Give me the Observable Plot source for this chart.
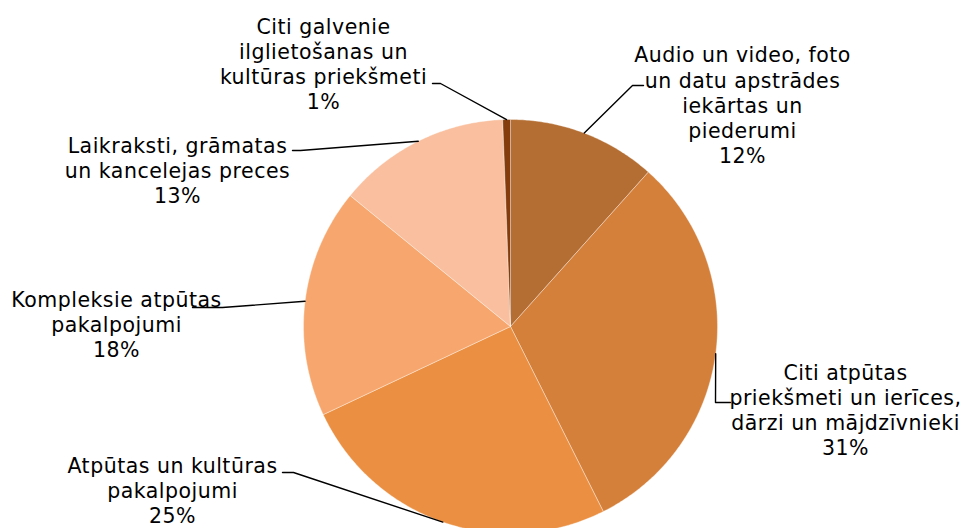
<!DOCTYPE html>
<html><head><meta charset="utf-8">
<script src="https://cdn.jsdelivr.net/npm/d3@7"></script>
<script src="https://cdn.jsdelivr.net/npm/@observablehq/plot@0.6"></script>
<style>body{margin:0;background:#fff}</style>
</head><body><div id="chart"></div>
<script>
// ---- data ----
const categories = [
  "Audio un video, foto\nun datu apstrādes\niekārtas un\npiederumi",
  "Citi atpūtas\npriekšmeti un ierīces,\ndārzi un mājdzīvnieki",
  "Atpūtas un kultūras\npakalpojumi",
  "Kompleksie atpūtas\npakalpojumi",
  "Laikraksti, grāmatas\nun kancelejas preces",
  "Citi galvenie\nilglietošanas un\nkultūras priekšmeti"
];
const values = [11.6, 31.0, 25.4, 17.9, 13.5, 0.6];
const percentLabels = ["12%", "31%", "25%", "18%", "13%", "1%"];
const colors = ["#B46E33", "#D4803B", "#EB9043", "#F7A76E", "#F9BF9E", "#843C0C"];

// ---- layout (pixels) ----
const W = 965, H = 528, cx = 510, cy = 326, R = 207;
const labelLayout = [
  {x: 742, y: 104, elbow: [[632, 85], [643, 85]]},
  {x: 845, y: 409, elbow: [[715, 402], [730, 402]]},
  {x: 172, y: 489, elbow: [[293, 472], [282, 472]]},
  {x: 116, y: 323, elbow: [[222, 307], [192, 307]]},
  {x: 177, y: 169, elbow: [[300, 150], [292, 150]]},
  {x: 323, y: 63, elbow: [[440, 83], [432, 83]]}
];

const rows = categories.map((c, i) => ({cat: c, value: values[i], pct: percentLabels[i], color: colors[i]}));
const arcs = d3.pie().sort(null).value(d => d.value).startAngle(0).endAngle(2 * Math.PI)(rows);

const px = a => cx + R * Math.sin(a);
const py = a => cy - R * Math.cos(a);

const wedgePts = [];
arcs.forEach((a, i) => {
  const n = Math.max(4, Math.ceil((a.endAngle - a.startAngle) / 0.01));
  wedgePts.push({i, color: a.data.color, x: cx, y: cy});
  for (let k = 0; k <= n; k++) {
    const t = a.startAngle + (a.endAngle - a.startAngle) * k / n;
    wedgePts.push({i, color: a.data.color, x: px(t), y: py(t)});
  }
  wedgePts.push({i, color: a.data.color, x: cx, y: cy});
});

const leaderPts = [];
arcs.forEach((a, i) => {
  const mid = (a.startAngle + a.endAngle) / 2;
  leaderPts.push({i, x: px(mid), y: py(mid)});
  labelLayout[i].elbow.forEach(([x, y]) => leaderPts.push({i, x, y}));
});

const labels = rows.map((r, i) => ({text: r.cat + "\n" + r.pct, x: labelLayout[i].x, y: labelLayout[i].y}));

const chart = Plot.plot({
  width: W, height: H, margin: 0,
  x: {domain: [0, W], range: [0, W], axis: null},
  y: {domain: [0, H], range: [0, H], axis: null},
  color: {type: "identity"},
  style: {fontFamily: "DejaVu Sans, Verdana, sans-serif", background: "#fff", letterSpacing: "0.5px"},
  marks: [
    Plot.line(wedgePts, {x: "x", y: "y", z: "i", fill: "color", stroke: "#fff", strokeWidth: 0.6, strokeOpacity: 0.6, curve: "linear"}),
    Plot.line(leaderPts, {x: "x", y: "y", z: "i", stroke: "#000", strokeWidth: 1.4}),
    Plot.text(labels, {x: "x", y: "y", text: "text", fontSize: 20.5, lineHeight: 1.22, lineAnchor: "middle", textAnchor: "middle", fill: "#000"})
  ]
});
document.getElementById("chart").appendChild(chart);
</script>
</body></html>
